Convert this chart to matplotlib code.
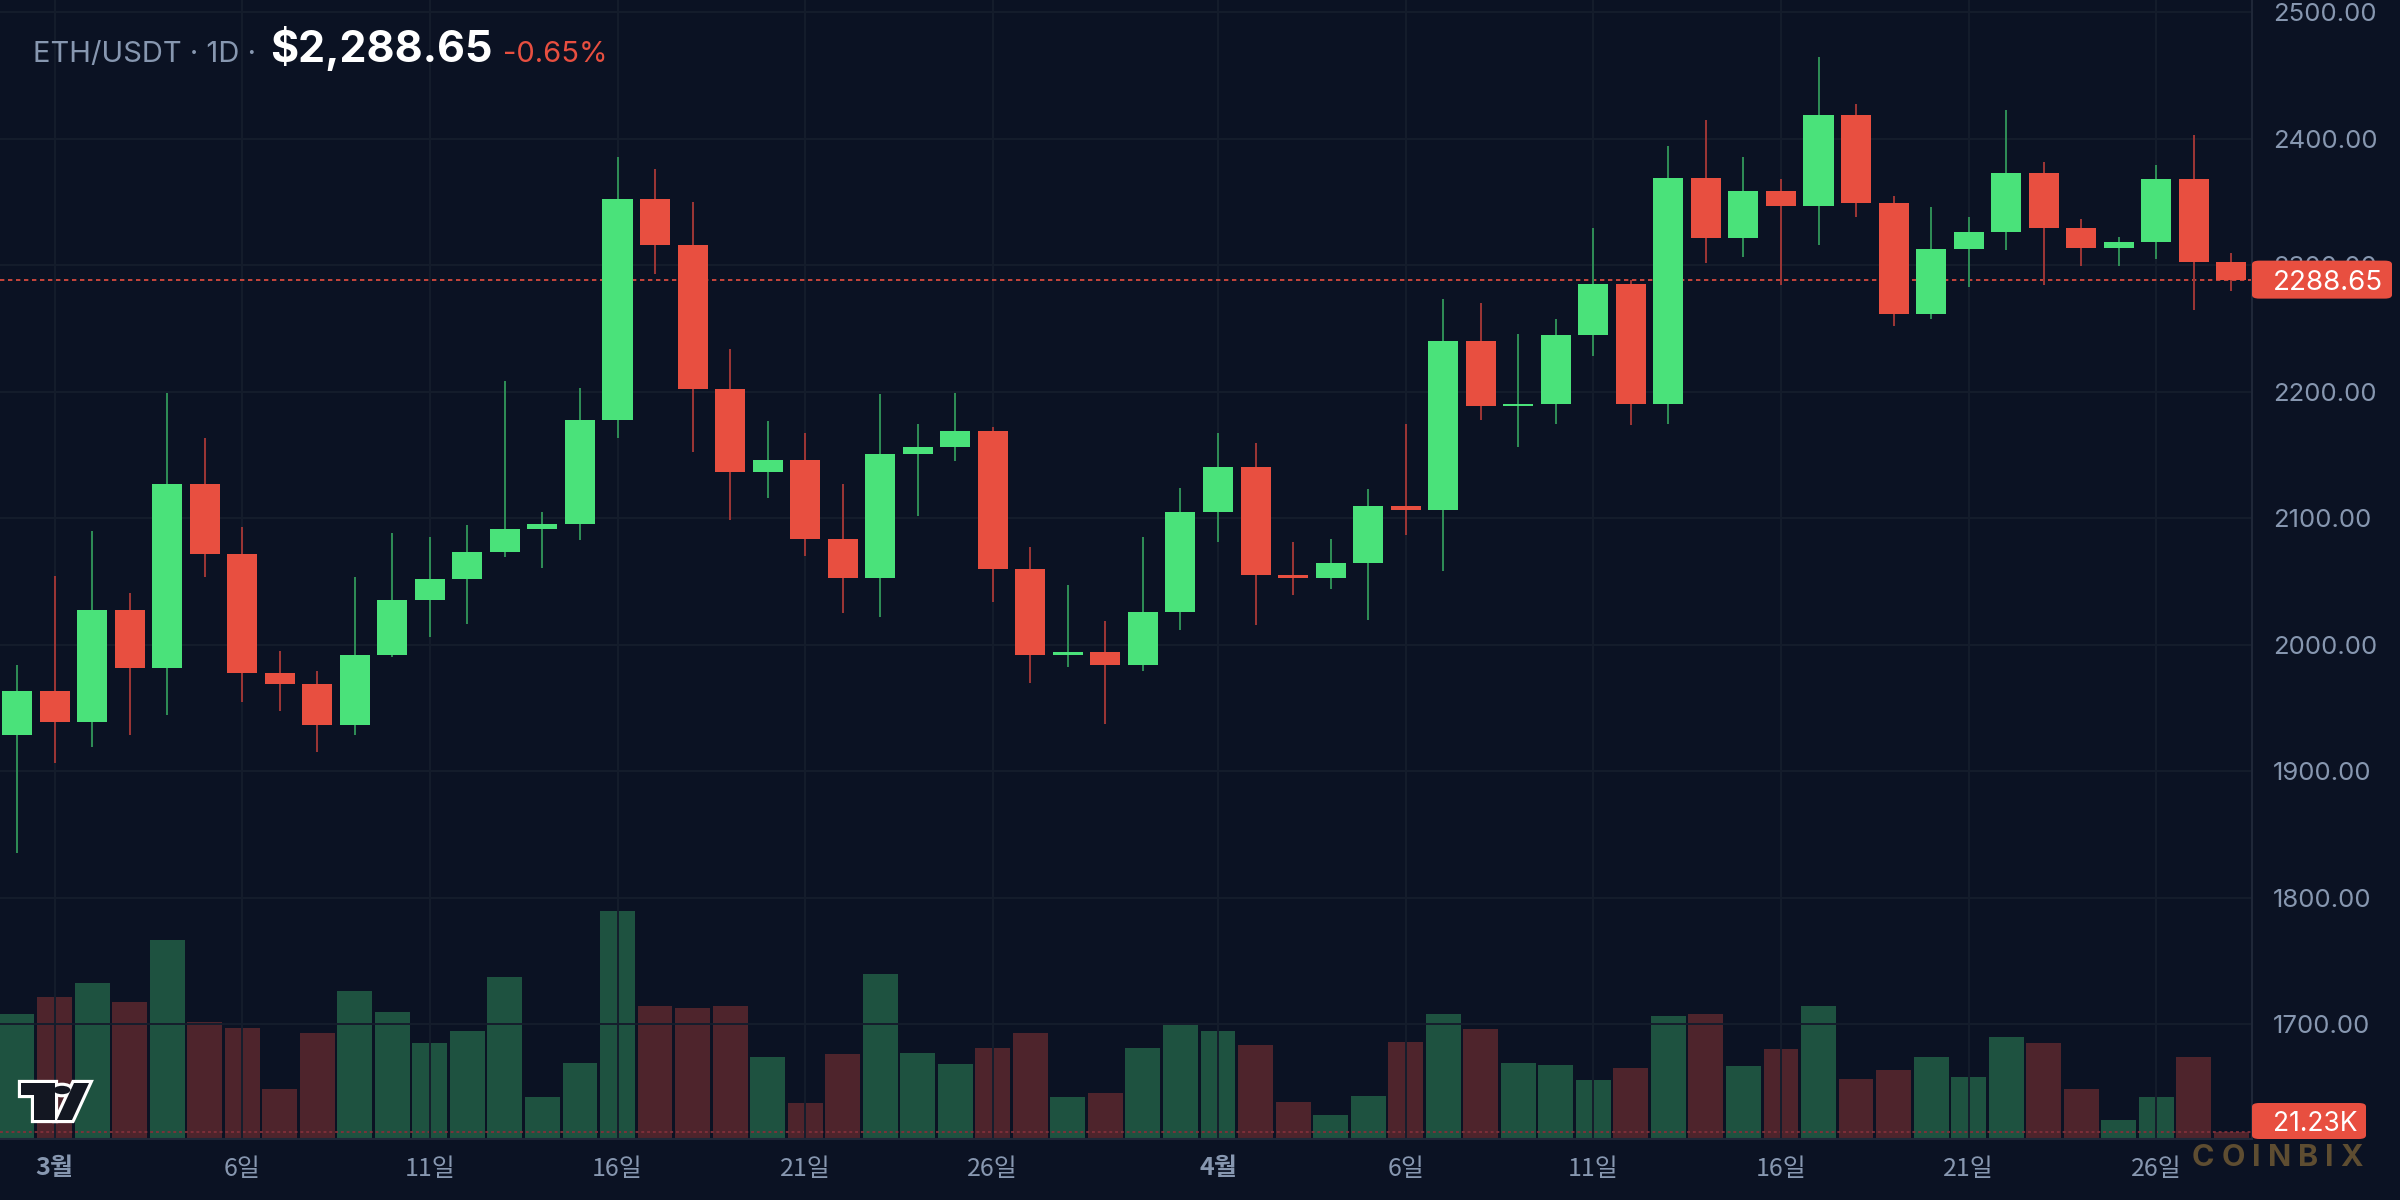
import matplotlib
matplotlib.use("Agg")
import matplotlib.pyplot as plt
from matplotlib.patches import FancyBboxPatch, Polygon, Circle

plt.rcParams["font.family"] = ["Inter", "Noto Sans CJK KR", "DejaVu Sans"]

# daily candles, 2024-02-29 .. 2024-04-28 (index 0 .. 59)
OPEN = [1928.6, 1963.6, 1938.8, 2027.2, 1981.6, 2126.8, 2071.7, 1977.3, 1968.9, 1936.3,
        1992.2, 2035.6, 2051.6, 2073.1, 2091.8, 2095.7, 2178.0, 2352.3, 2316.2, 2202.4,
        2136.7, 2145.9, 2083.7, 2052.6, 2151.2, 2156.2, 2168.9, 2059.7, 1991.8, 1994.6,
        1983.7, 2026.1, 2104.6, 2140.3, 2055.4, 2052.6, 2065.0, 2109.5, 2106.3, 2239.9,
        2188.7, 2190.0, 2244.9, 2285.1, 2190.0, 2368.9, 2321.2, 2359.0, 2346.6, 2418.4,
        2349.1, 2261.8, 2313.1, 2326.5, 2373.1, 2329.3, 2313.4, 2318.7, 2368.5, 2302.5]
HIGH = [1984.4, 2054.0, 2089.7, 2041.3, 2198.9, 2163.2, 2092.9, 1995.4, 1979.5, 2053.3,
        2088.0, 2084.8, 2094.3, 2208.5, 2105.3, 2202.8, 2385.5, 2376.0, 2350.2, 2233.6,
        2176.7, 2167.8, 2126.8, 2197.9, 2174.9, 2198.9, 2172.0, 2077.0, 2047.0, 2019.0,
        2084.8, 2123.6, 2167.1, 2159.3, 2081.6, 2083.4, 2122.9, 2174.2, 2273.1, 2270.0,
        2245.6, 2257.2, 2329.3, 2288.0, 2394.3, 2415.2, 2385.2, 2368.5, 2464.3, 2427.2,
        2354.4, 2346.3, 2337.8, 2423.0, 2381.3, 2336.7, 2322.6, 2379.5, 2403.2, 2309.9]
LOW = [1835.7, 1906.3, 1919.0, 1928.6, 1944.1, 2053.7, 1954.7, 1947.3, 1915.1, 1928.6,
       1990.0, 2006.0, 2016.2, 2069.2, 2060.7, 2082.7, 2163.2, 2292.9, 2152.6, 2098.5,
       2115.9, 2070.3, 2025.0, 2021.9, 2101.7, 2145.2, 2033.9, 1969.6, 1982.3, 1937.7,
       1979.0, 2011.3, 2080.9, 2015.9, 2039.5, 2043.8, 2019.7, 2086.9, 2058.6, 2178.0,
       2156.2, 2174.9, 2228.2, 2173.5, 2174.2, 2301.4, 2306.7, 2284.1, 2316.2, 2338.5,
       2251.6, 2257.9, 2282.7, 2312.0, 2284.1, 2299.3, 2299.3, 2305.3, 2265.0, 2279.5]
CLOSE = [1963.6, 1938.8, 2027.2, 1981.6, 2126.8, 2071.7, 1977.3, 1968.9, 1936.3, 1992.2,
         2035.6, 2051.6, 2073.1, 2091.8, 2095.7, 2178.0, 2352.3, 2316.2, 2202.4, 2136.7,
         2145.9, 2083.7, 2052.6, 2151.2, 2156.2, 2168.9, 2059.7, 1991.8, 1994.6, 1983.7,
         2026.1, 2104.6, 2140.3, 2055.4, 2052.6, 2065.0, 2109.5, 2106.3, 2239.9, 2188.7,
         2190.0, 2244.9, 2285.1, 2190.0, 2368.9, 2321.2, 2359.0, 2346.6, 2418.4, 2349.1,
         2261.8, 2313.1, 2326.5, 2373.1, 2329.3, 2313.4, 2318.7, 2368.5, 2302.5, 2288.65]
# volume in thousands of ETH
VOLUME = [361, 410, 450, 397, 575, 339, 321, 146, 308, 428,
          366, 277, 312, 468, 122, 221, 659, 384, 379, 384,
          237, 105, 247, 477, 250, 218, 263, 308, 122, 134,
          263, 330, 312, 272, 108, 70, 125, 281, 361, 317,
          219, 215, 170, 204, 357, 361, 212, 259, 384, 174,
          201, 237, 180, 295, 277, 146, 55, 122, 237, 21.23]

TICK_POS = [1, 6, 11, 16, 21, 26, 32, 37, 42, 47, 52, 57]
TICK_LABELS = ["3월", "6일", "11일", "16일", "21일", "26일",
               "4월", "6일", "11일", "16일", "21일", "26일"]
PRICE_TICKS = [1700, 1800, 1900, 2000, 2100, 2200, 2300, 2400, 2500]

BG = "#0b1223"
GRID = "#151d2c"
AXIS = "#1f2738"
MUTED = "#8797b0"
UP = "#4ae27a"
DOWN = "#e84f40"
UP_WICK = "#2e8b55"
DOWN_WICK = "#9a3535"
UP_VOL = "#1e5240"
DOWN_VOL = "#4e242c"

W, H = 2400, 1200
XLIM = (-0.453, 59.55)
fig = plt.figure(figsize=(24, 12), dpi=100, facecolor=BG)
rect = [0, 61 / H, 2252 / W, 1139 / H]
axv = fig.add_axes(rect)
ax = fig.add_axes(rect)
ax.patch.set_visible(False)

n = len(CLOSE)
xs = list(range(n))
up = [c >= o for o, c in zip(OPEN, CLOSE)]

# volume pane (bottom 20% of the chart)
axv.set_facecolor(BG)
axv.bar(xs, VOLUME, width=0.93, color=[UP_VOL if u else DOWN_VOL for u in up])
axv.set_ylim(0, max(VOLUME) / 0.2)
axv.set_xlim(*XLIM)
axv.axhline(VOLUME[-1], color="#82303a", lw=1.3, ls=(0, (1.6, 1.6)))
for s in axv.spines.values():
    s.set_visible(False)
axv.tick_params(left=False, bottom=False, labelleft=False, labelbottom=False)

# candles
ax.vlines(xs, LOW, HIGH, colors=[UP_WICK if u else DOWN_WICK for u in up],
          lw=1.45, zorder=2)
bottoms = [min(o, c) for o, c in zip(OPEN, CLOSE)]
heights = [max(abs(c - o), 1.3) for o, c in zip(OPEN, CLOSE)]
ax.bar(xs, heights, bottom=bottoms, width=0.8,
       color=[UP if u else DOWN for u in up], zorder=3)
ax.axhline(CLOSE[-1], color=DOWN, lw=1.2, ls=(0, (2.6, 2.2)), zorder=1)

ax.set_ylim(1609.3, 2509.7)
ax.set_xlim(*XLIM)
ax.grid(True, color=GRID, lw=1.4, zorder=0)
ax.set_axisbelow(True)
ax.yaxis.tick_right()
ax.set_yticks(PRICE_TICKS, [f"{p:.2f}" for p in PRICE_TICKS])
ax.tick_params(axis="y", length=0, pad=15, labelsize=18.5, labelcolor=MUTED)
ax.set_xticks(TICK_POS, TICK_LABELS)
ax.tick_params(axis="x", length=0, pad=12, labelsize=18, labelcolor=MUTED)
for lab in ax.get_xticklabels():
    lab.set_family(["Noto Sans CJK KR", "DejaVu Sans"])
    if lab.get_text().endswith("월"):
        lab.set_fontweight("bold")
for side in ("top", "left"):
    ax.spines[side].set_visible(False)
for side in ("right", "bottom"):
    ax.spines[side].set_color(AXIS)
    ax.spines[side].set_linewidth(1.5)

# last price / last volume tags on the scale
x_axis = 2252
_, yp = ax.transData.transform((0, CLOSE[-1]))
fig.add_artist(FancyBboxPatch((x_axis / W, (yp - 19) / H), 140 / W, 38 / H,
                              boxstyle="round,pad=0,rounding_size=0.003",
                              fc=DOWN, ec="none", transform=fig.transFigure, zorder=5))
fig.text(2273 / W, yp / H, f"{CLOSE[-1]:.2f}", color="white", fontsize=20,
         va="center_baseline", ha="left", zorder=6)
fig.add_artist(FancyBboxPatch((x_axis / W, 61 / H), 114 / W, 36 / H,
                              boxstyle="round,pad=0,rounding_size=0.003",
                              fc=DOWN, ec="none", transform=fig.transFigure, zorder=5))
fig.text(2273 / W, 79 / H, f"{VOLUME[-1]:.2f}K", color="white", fontsize=19,
         va="center_baseline", ha="left", zorder=6)

# header
base = 1 - 62 / H
fig.text(33 / W, base, "ETH/USDT · 1D ·", color=MUTED, fontsize=21, va="baseline")
fig.text(270 / W, base, f"${CLOSE[-1]:,.2f}", color="white", fontsize=31,
         fontweight="bold", va="baseline")
fig.text(503 / W, base, "-0.65%", color=DOWN, fontsize=21, va="baseline")

# watermark
r = fig.canvas.get_renderer()
x = 2192
for ch in "COINBIX":
    t = fig.text(x / W, 1 - 1166 / H, ch, color="#5e4d31", fontsize=22,
                 fontweight="bold", va="baseline", zorder=6)
    x += t.get_window_extent(r).width + 7


def px(pts):
    return [(a / W, 1 - b / H) for a, b in pts]


# small TradingView logo
shapes = [
    px([(21, 1083), (55, 1083), (55, 1120), (34, 1120), (34, 1095), (21, 1095)]),
    px([(74, 1083), (89, 1083), (72, 1120), (57, 1120)]),
]
dot = (62 / W, 1 - 1090 / H)
for pts in shapes:
    fig.add_artist(Polygon(pts, closed=True, fc="white", ec="white", lw=4.5,
                           joinstyle="miter", transform=fig.transFigure, zorder=4))
fig.add_artist(Circle(dot, 0.0035, fc="white", ec="white", lw=4.5,
                      transform=fig.transFigure, zorder=4))
for pts in shapes:
    fig.add_artist(Polygon(pts, closed=True, fc="#131722", ec="none",
                           transform=fig.transFigure, zorder=4.5))
fig.add_artist(Circle(dot, 0.0035, fc="#131722", ec="none",
                      transform=fig.transFigure, zorder=4.5))

fig.savefig("out.png", dpi=100, facecolor=BG)
